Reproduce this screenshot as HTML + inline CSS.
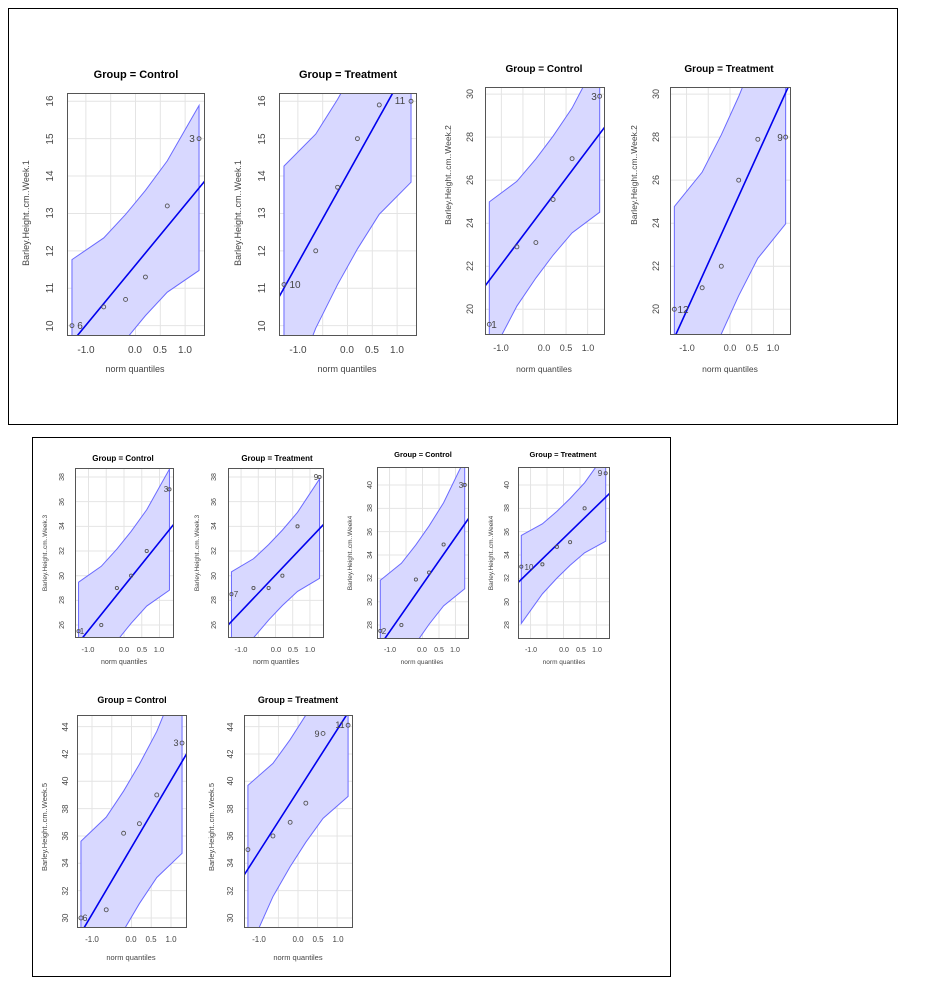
<!DOCTYPE html>
<html><head><meta charset="utf-8"><style>
html,body{margin:0;background:#fff;overflow:hidden;width:936px;height:1002px}
svg{display:block}
*{vector-effect:non-scaling-stroke}
.t{font-family:"Liberation Sans",sans-serif;font-weight:bold;fill:#000;text-anchor:middle}
.k{font-family:"Liberation Sans",sans-serif;fill:#444;text-anchor:middle}
.bx{fill:none;stroke:#555;stroke-width:1}
.g line{stroke:#e4e4e4;stroke-width:1;vector-effect:non-scaling-stroke}
.bd{fill:#d8d8ff;stroke:#6a6aff;stroke-width:1;vector-effect:non-scaling-stroke}
.ln{stroke:#0000ee;stroke-width:1.6;vector-effect:non-scaling-stroke}
.p ellipse{fill:none;stroke:#555;stroke-width:0.9;vector-effect:non-scaling-stroke}
</style></head><body>
<svg width="936" height="1002" viewBox="0 0 936 1002" xmlns="http://www.w3.org/2000/svg">
<rect x="8.5" y="8.5" width="889" height="416" fill="none" stroke="#000"/>
<rect x="32.5" y="437.5" width="638" height="539" fill="none" stroke="#000"/>

<!-- Panel 1 -->
<text class="t" x="136" y="78" font-size="11">Group = Control</text>
<svg x="67" y="93" width="137" height="242" viewBox="-1.38 -16.22 2.76 6.47" preserveAspectRatio="none">
<g class="g"><line x1="-1" x2="-1" y1="-30" y2="0"/><line x1="-0.5" x2="-0.5" y1="-30" y2="0"/><line x1="0" x2="0" y1="-30" y2="0"/><line x1="0.5" x2="0.5" y1="-30" y2="0"/><line x1="1" x2="1" y1="-30" y2="0"/>
<line x1="-2" x2="2" y1="-10" y2="-10"/><line x1="-2" x2="2" y1="-11" y2="-11"/><line x1="-2" x2="2" y1="-12" y2="-12"/><line x1="-2" x2="2" y1="-13" y2="-13"/><line x1="-2" x2="2" y1="-14" y2="-14"/><line x1="-2" x2="2" y1="-15" y2="-15"/><line x1="-2" x2="2" y1="-16" y2="-16"/></g>
<g transform="matrix(1,0,0,-1.61,0,-11.62)"><polygon class="bd" points="-1.28,0.09 -0.64,0.45 -0.2,0.84 0.2,1.24 0.64,1.73 1.28,2.65 1.28,-0.09 0.64,-0.45 0.2,-0.84 -0.2,-1.24 -0.64,-1.73 -1.28,-2.65"/><line class="ln" x1="-2" y1="-2" x2="2" y2="2"/></g>
<g class="p"><ellipse cx="-1.28" cy="-10" rx="0.04" ry="0.053"/><ellipse cx="-0.64" cy="-10.5" rx="0.04" ry="0.053"/><ellipse cx="-0.2" cy="-10.7" rx="0.04" ry="0.053"/><ellipse cx="0.2" cy="-11.3" rx="0.04" ry="0.053"/><ellipse cx="0.64" cy="-13.2" rx="0.04" ry="0.053"/><ellipse cx="1.28" cy="-15" rx="0.04" ry="0.053"/></g>
</svg>
<rect class="bx" x="67.5" y="93.5" width="137" height="242"/>
<g class="k" font-size="10"><text x="86" y="353">-1.0</text><text x="135" y="353">0.0</text><text x="160" y="353">0.5</text><text x="185" y="353">1.0</text><text x="135" y="372" font-size="9">norm quantiles</text>
<text x="80" y="329">6</text><text x="192" y="142">3</text></g>
<g class="k" font-size="10"><text transform="translate(53,101) rotate(-90)">16</text><text transform="translate(53,139) rotate(-90)">15</text><text transform="translate(53,176) rotate(-90)">14</text><text transform="translate(53,213) rotate(-90)">13</text><text transform="translate(53,251) rotate(-90)">12</text><text transform="translate(53,288) rotate(-90)">11</text><text transform="translate(53,326) rotate(-90)">10</text>
<text transform="translate(29,213) rotate(-90)" font-size="9">Barley.Height..cm..Week.1</text></g>

<!-- Panel 2 -->
<text class="t" x="348" y="78" font-size="11">Group = Treatment</text>
<svg x="279" y="93" width="137" height="242" viewBox="-1.38 -16.22 2.76 6.47" preserveAspectRatio="none">
<g class="g"><line x1="-1" x2="-1" y1="-30" y2="0"/><line x1="-0.5" x2="-0.5" y1="-30" y2="0"/><line x1="0" x2="0" y1="-30" y2="0"/><line x1="0.5" x2="0.5" y1="-30" y2="0"/><line x1="1" x2="1" y1="-30" y2="0"/>
<line x1="-2" x2="2" y1="-10" y2="-10"/><line x1="-2" x2="2" y1="-11" y2="-11"/><line x1="-2" x2="2" y1="-12" y2="-12"/><line x1="-2" x2="2" y1="-13" y2="-13"/><line x1="-2" x2="2" y1="-14" y2="-14"/><line x1="-2" x2="2" y1="-15" y2="-15"/><line x1="-2" x2="2" y1="-16" y2="-16"/></g>
<g transform="matrix(1,0,0,-2.38,0,-14.05)"><polygon class="bd" points="-1.28,0.09 -0.64,0.45 -0.2,0.84 0.2,1.24 0.64,1.73 1.28,2.65 1.28,-0.09 0.64,-0.45 0.2,-0.84 -0.2,-1.24 -0.64,-1.73 -1.28,-2.65"/><line class="ln" x1="-2" y1="-2" x2="2" y2="2"/></g>
<g class="p"><ellipse cx="-1.28" cy="-11.1" rx="0.04" ry="0.053"/><ellipse cx="-0.64" cy="-12" rx="0.04" ry="0.053"/><ellipse cx="-0.2" cy="-13.7" rx="0.04" ry="0.053"/><ellipse cx="0.2" cy="-15" rx="0.04" ry="0.053"/><ellipse cx="0.64" cy="-15.9" rx="0.04" ry="0.053"/><ellipse cx="1.28" cy="-16" rx="0.04" ry="0.053"/></g>
</svg>
<rect class="bx" x="279.5" y="93.5" width="137" height="242"/>
<g class="k" font-size="10"><text x="298" y="353">-1.0</text><text x="347" y="353">0.0</text><text x="372" y="353">0.5</text><text x="397" y="353">1.0</text><text x="347" y="372" font-size="9">norm quantiles</text>
<text x="295" y="288">10</text><text x="400" y="104">11</text></g>
<g class="k" font-size="10"><text transform="translate(265,101) rotate(-90)">16</text><text transform="translate(265,139) rotate(-90)">15</text><text transform="translate(265,176) rotate(-90)">14</text><text transform="translate(265,213) rotate(-90)">13</text><text transform="translate(265,251) rotate(-90)">12</text><text transform="translate(265,288) rotate(-90)">11</text><text transform="translate(265,326) rotate(-90)">10</text>
<text transform="translate(241,213) rotate(-90)" font-size="9">Barley.Height..cm..Week.1</text></g>

<!-- Panel 3 -->
<text class="t" x="544" y="72" font-size="10">Group = Control</text>
<svg x="485" y="87" width="119" height="247" viewBox="-1.38 -30.33 2.76 11.48" preserveAspectRatio="none">
<g class="g"><line x1="-1" x2="-1" y1="-40" y2="0"/><line x1="-0.5" x2="-0.5" y1="-40" y2="0"/><line x1="0" x2="0" y1="-40" y2="0"/><line x1="0.5" x2="0.5" y1="-40" y2="0"/><line x1="1" x2="1" y1="-40" y2="0"/>
<line x1="-2" x2="2" y1="-20" y2="-20"/><line x1="-2" x2="2" y1="-22" y2="-22"/><line x1="-2" x2="2" y1="-24" y2="-24"/><line x1="-2" x2="2" y1="-26" y2="-26"/><line x1="-2" x2="2" y1="-28" y2="-28"/><line x1="-2" x2="2" y1="-30" y2="-30"/></g>
<g transform="matrix(1,0,0,-2.66,0,-24.75)"><polygon class="bd" points="-1.28,0.09 -0.64,0.45 -0.2,0.84 0.2,1.24 0.64,1.73 1.28,2.65 1.28,-0.09 0.64,-0.45 0.2,-0.84 -0.2,-1.24 -0.64,-1.73 -1.28,-2.65"/><line class="ln" x1="-2" y1="-2" x2="2" y2="2"/></g>
<g class="p"><ellipse cx="-1.28" cy="-19.3" rx="0.046" ry="0.093"/><ellipse cx="-0.64" cy="-22.9" rx="0.046" ry="0.093"/><ellipse cx="-0.2" cy="-23.1" rx="0.046" ry="0.093"/><ellipse cx="0.2" cy="-25.1" rx="0.046" ry="0.093"/><ellipse cx="0.64" cy="-27" rx="0.046" ry="0.093"/><ellipse cx="1.28" cy="-29.9" rx="0.046" ry="0.093"/></g>
</svg>
<rect class="bx" x="485.5" y="87.5" width="119" height="247"/>
<g class="k" font-size="9"><text x="501" y="351">-1.0</text><text x="544" y="351">0.0</text><text x="566" y="351">0.5</text><text x="588" y="351">1.0</text><text x="544" y="372" font-size="8.5">norm quantiles</text>
<text x="494" y="328" font-size="10">1</text><text x="594" y="100" font-size="10">3</text></g>
<g class="k" font-size="9"><text transform="translate(473,94) rotate(-90)">30</text><text transform="translate(473,137) rotate(-90)">28</text><text transform="translate(473,180) rotate(-90)">26</text><text transform="translate(473,223) rotate(-90)">24</text><text transform="translate(473,266) rotate(-90)">22</text><text transform="translate(473,309) rotate(-90)">20</text>
<text transform="translate(451,175) rotate(-90)" font-size="8.5">Barley.Height..cm..Week.2</text></g>

<!-- Panel 4 -->
<text class="t" x="729" y="72" font-size="10">Group = Treatment</text>
<svg x="670" y="87" width="120" height="247" viewBox="-1.38 -30.33 2.76 11.48" preserveAspectRatio="none">
<g class="g"><line x1="-1" x2="-1" y1="-40" y2="0"/><line x1="-0.5" x2="-0.5" y1="-40" y2="0"/><line x1="0" x2="0" y1="-40" y2="0"/><line x1="0.5" x2="0.5" y1="-40" y2="0"/><line x1="1" x2="1" y1="-40" y2="0"/>
<line x1="-2" x2="2" y1="-20" y2="-20"/><line x1="-2" x2="2" y1="-22" y2="-22"/><line x1="-2" x2="2" y1="-24" y2="-24"/><line x1="-2" x2="2" y1="-26" y2="-26"/><line x1="-2" x2="2" y1="-28" y2="-28"/><line x1="-2" x2="2" y1="-30" y2="-30"/></g>
<g transform="matrix(1,0,0,-4.45,0,-24.37)"><polygon class="bd" points="-1.28,0.09 -0.64,0.45 -0.2,0.84 0.2,1.24 0.64,1.73 1.28,2.65 1.28,-0.09 0.64,-0.45 0.2,-0.84 -0.2,-1.24 -0.64,-1.73 -1.28,-2.65"/><line class="ln" x1="-2" y1="-2" x2="2" y2="2"/></g>
<g class="p"><ellipse cx="-1.28" cy="-20" rx="0.046" ry="0.093"/><ellipse cx="-0.64" cy="-21" rx="0.046" ry="0.093"/><ellipse cx="-0.2" cy="-22" rx="0.046" ry="0.093"/><ellipse cx="0.2" cy="-26" rx="0.046" ry="0.093"/><ellipse cx="0.64" cy="-27.9" rx="0.046" ry="0.093"/><ellipse cx="1.28" cy="-28" rx="0.046" ry="0.093"/></g>
</svg>
<rect class="bx" x="670.5" y="87.5" width="120" height="247"/>
<g class="k" font-size="9"><text x="687" y="351">-1.0</text><text x="730" y="351">0.0</text><text x="752" y="351">0.5</text><text x="773" y="351">1.0</text><text x="730" y="372" font-size="8.5">norm quantiles</text>
<text x="683" y="313" font-size="10">12</text><text x="780" y="141" font-size="10">9</text></g>
<g class="k" font-size="9"><text transform="translate(659,94) rotate(-90)">30</text><text transform="translate(659,137) rotate(-90)">28</text><text transform="translate(659,180) rotate(-90)">26</text><text transform="translate(659,223) rotate(-90)">24</text><text transform="translate(659,266) rotate(-90)">22</text><text transform="translate(659,309) rotate(-90)">20</text>
<text transform="translate(637,175) rotate(-90)" font-size="8.5">Barley.Height..cm..Week.2</text></g>

<!-- Panel a -->
<text class="t" x="123" y="461" font-size="8">Group = Control</text>
<svg x="75" y="468" width="98" height="169" viewBox="-1.38 -38.73 2.76 13.7" preserveAspectRatio="none">
<g class="g"><line x1="-1" x2="-1" y1="-60" y2="0"/><line x1="-0.5" x2="-0.5" y1="-60" y2="0"/><line x1="0" x2="0" y1="-60" y2="0"/><line x1="0.5" x2="0.5" y1="-60" y2="0"/><line x1="1" x2="1" y1="-60" y2="0"/>
<line x1="-2" x2="2" y1="-26" y2="-26"/><line x1="-2" x2="2" y1="-28" y2="-28"/><line x1="-2" x2="2" y1="-30" y2="-30"/><line x1="-2" x2="2" y1="-32" y2="-32"/><line x1="-2" x2="2" y1="-34" y2="-34"/><line x1="-2" x2="2" y1="-36" y2="-36"/><line x1="-2" x2="2" y1="-38" y2="-38"/></g>
<g transform="matrix(1,0,0,-3.58,0,-29.15)"><polygon class="bd" points="-1.28,0.09 -0.64,0.45 -0.2,0.84 0.2,1.24 0.64,1.73 1.28,2.65 1.28,-0.09 0.64,-0.45 0.2,-0.84 -0.2,-1.24 -0.64,-1.73 -1.28,-2.65"/><line class="ln" x1="-2" y1="-2" x2="2" y2="2"/></g>
<g class="p"><ellipse cx="-1.28" cy="-25.5" rx="0.045" ry="0.13"/><ellipse cx="-0.64" cy="-26" rx="0.045" ry="0.13"/><ellipse cx="-0.2" cy="-29" rx="0.045" ry="0.13"/><ellipse cx="0.2" cy="-30" rx="0.045" ry="0.13"/><ellipse cx="0.64" cy="-32" rx="0.045" ry="0.13"/><ellipse cx="1.28" cy="-37" rx="0.045" ry="0.13"/></g>
</svg>
<rect class="bx" x="75.5" y="468.5" width="98" height="169"/>
<g class="k" font-size="7.5"><text x="88" y="652">-1.0</text><text x="124" y="652">0.0</text><text x="142" y="652">0.5</text><text x="159" y="652">1.0</text><text x="124" y="664" font-size="7">norm quantiles</text>
<text x="82" y="634" font-size="8">1</text><text x="166" y="492" font-size="8">3</text></g>
<g class="k" font-size="7"><text transform="translate(64,477) rotate(-90)">38</text><text transform="translate(64,502) rotate(-90)">36</text><text transform="translate(64,526) rotate(-90)">34</text><text transform="translate(64,551) rotate(-90)">32</text><text transform="translate(64,576) rotate(-90)">30</text><text transform="translate(64,600) rotate(-90)">28</text><text transform="translate(64,625) rotate(-90)">26</text>
<text transform="translate(47,553) rotate(-90)" font-size="6.5">Barley.Height..cm..Week.3</text></g>

<!-- Panel b -->
<text class="t" x="277" y="461" font-size="8">Group = Treatment</text>
<svg x="228" y="468" width="95" height="169" viewBox="-1.38 -38.73 2.76 13.7" preserveAspectRatio="none">
<g class="g"><line x1="-1" x2="-1" y1="-60" y2="0"/><line x1="-0.5" x2="-0.5" y1="-60" y2="0"/><line x1="0" x2="0" y1="-60" y2="0"/><line x1="0.5" x2="0.5" y1="-60" y2="0"/><line x1="1" x2="1" y1="-60" y2="0"/>
<line x1="-2" x2="2" y1="-26" y2="-26"/><line x1="-2" x2="2" y1="-28" y2="-28"/><line x1="-2" x2="2" y1="-30" y2="-30"/><line x1="-2" x2="2" y1="-32" y2="-32"/><line x1="-2" x2="2" y1="-34" y2="-34"/><line x1="-2" x2="2" y1="-36" y2="-36"/><line x1="-2" x2="2" y1="-38" y2="-38"/></g>
<g transform="matrix(1,0,0,-2.94,0,-30.05)"><polygon class="bd" points="-1.28,0.09 -0.64,0.45 -0.2,0.84 0.2,1.24 0.64,1.73 1.28,2.65 1.28,-0.09 0.64,-0.45 0.2,-0.84 -0.2,-1.24 -0.64,-1.73 -1.28,-2.65"/><line class="ln" x1="-2" y1="-2" x2="2" y2="2"/></g>
<g class="p"><ellipse cx="-1.28" cy="-28.5" rx="0.046" ry="0.13"/><ellipse cx="-0.64" cy="-29" rx="0.046" ry="0.13"/><ellipse cx="-0.2" cy="-29" rx="0.046" ry="0.13"/><ellipse cx="0.2" cy="-30" rx="0.046" ry="0.13"/><ellipse cx="0.64" cy="-34" rx="0.046" ry="0.13"/><ellipse cx="1.28" cy="-38" rx="0.046" ry="0.13"/></g>
</svg>
<rect class="bx" x="228.5" y="468.5" width="95" height="169"/>
<g class="k" font-size="7.5"><text x="241" y="652">-1.0</text><text x="276" y="652">0.0</text><text x="293" y="652">0.5</text><text x="310" y="652">1.0</text><text x="276" y="664" font-size="7">norm quantiles</text>
<text x="236" y="597" font-size="8">7</text><text x="316" y="480" font-size="8">9</text></g>
<g class="k" font-size="7"><text transform="translate(216,477) rotate(-90)">38</text><text transform="translate(216,502) rotate(-90)">36</text><text transform="translate(216,526) rotate(-90)">34</text><text transform="translate(216,551) rotate(-90)">32</text><text transform="translate(216,576) rotate(-90)">30</text><text transform="translate(216,600) rotate(-90)">28</text><text transform="translate(216,625) rotate(-90)">26</text>
<text transform="translate(199,553) rotate(-90)" font-size="6.5">Barley.Height..cm..Week.3</text></g>

<!-- Panel c -->
<text class="t" x="423" y="457" font-size="7.5">Group = Control</text>
<svg x="377" y="467" width="91" height="171" viewBox="-1.38 -41.54 2.76 14.65" preserveAspectRatio="none">
<g class="g"><line x1="-1" x2="-1" y1="-60" y2="0"/><line x1="-0.5" x2="-0.5" y1="-60" y2="0"/><line x1="0" x2="0" y1="-60" y2="0"/><line x1="0.5" x2="0.5" y1="-60" y2="0"/><line x1="1" x2="1" y1="-60" y2="0"/>
<line x1="-2" x2="2" y1="-28" y2="-28"/><line x1="-2" x2="2" y1="-30" y2="-30"/><line x1="-2" x2="2" y1="-32" y2="-32"/><line x1="-2" x2="2" y1="-34" y2="-34"/><line x1="-2" x2="2" y1="-36" y2="-36"/><line x1="-2" x2="2" y1="-38" y2="-38"/><line x1="-2" x2="2" y1="-40" y2="-40"/></g>
<g transform="matrix(1,0,0,-4.05,0,-31.47)"><polygon class="bd" points="-1.28,0.09 -0.64,0.45 -0.2,0.84 0.2,1.24 0.64,1.73 1.28,2.65 1.28,-0.09 0.64,-0.45 0.2,-0.84 -0.2,-1.24 -0.64,-1.73 -1.28,-2.65"/><line class="ln" x1="-2" y1="-2" x2="2" y2="2"/></g>
<g class="p"><ellipse cx="-1.28" cy="-27.5" rx="0.048" ry="0.137"/><ellipse cx="-0.64" cy="-28" rx="0.048" ry="0.137"/><ellipse cx="-0.2" cy="-31.9" rx="0.048" ry="0.137"/><ellipse cx="0.2" cy="-32.5" rx="0.048" ry="0.137"/><ellipse cx="0.64" cy="-34.9" rx="0.048" ry="0.137"/><ellipse cx="1.28" cy="-40" rx="0.048" ry="0.137"/></g>
</svg>
<rect class="bx" x="377.5" y="467.5" width="91" height="171"/>
<g class="k" font-size="7"><text x="390" y="652">-1.0</text><text x="422" y="652">0.0</text><text x="439" y="652">0.5</text><text x="455" y="652">1.0</text><text x="422" y="664" font-size="6.5">norm quantiles</text>
<text x="384" y="634" font-size="8">2</text><text x="461" y="488" font-size="8">3</text></g>
<g class="k" font-size="7"><text transform="translate(372,485) rotate(-90)">40</text><text transform="translate(372,508) rotate(-90)">38</text><text transform="translate(372,532) rotate(-90)">36</text><text transform="translate(372,555) rotate(-90)">34</text><text transform="translate(372,578) rotate(-90)">32</text><text transform="translate(372,602) rotate(-90)">30</text><text transform="translate(372,625) rotate(-90)">28</text>
<text transform="translate(352,553) rotate(-90)" font-size="6.5">Barley.Height..cm..Week4</text></g>

<!-- Panel d -->
<text class="t" x="563" y="457" font-size="7.5">Group = Treatment</text>
<svg x="518" y="467" width="91" height="171" viewBox="-1.38 -41.54 2.76 14.65" preserveAspectRatio="none">
<g class="g"><line x1="-1" x2="-1" y1="-60" y2="0"/><line x1="-0.5" x2="-0.5" y1="-60" y2="0"/><line x1="0" x2="0" y1="-60" y2="0"/><line x1="0.5" x2="0.5" y1="-60" y2="0"/><line x1="1" x2="1" y1="-60" y2="0"/>
<line x1="-2" x2="2" y1="-28" y2="-28"/><line x1="-2" x2="2" y1="-30" y2="-30"/><line x1="-2" x2="2" y1="-32" y2="-32"/><line x1="-2" x2="2" y1="-34" y2="-34"/><line x1="-2" x2="2" y1="-36" y2="-36"/><line x1="-2" x2="2" y1="-38" y2="-38"/><line x1="-2" x2="2" y1="-40" y2="-40"/></g>
<g transform="matrix(1,0,0,-2.75,0,-35.43)"><polygon class="bd" points="-1.28,0.09 -0.64,0.45 -0.2,0.84 0.2,1.24 0.64,1.73 1.28,2.65 1.28,-0.09 0.64,-0.45 0.2,-0.84 -0.2,-1.24 -0.64,-1.73 -1.28,-2.65"/><line class="ln" x1="-2" y1="-2" x2="2" y2="2"/></g>
<g class="p"><ellipse cx="-1.28" cy="-33" rx="0.048" ry="0.137"/><ellipse cx="-0.64" cy="-33.2" rx="0.048" ry="0.137"/><ellipse cx="-0.2" cy="-34.7" rx="0.048" ry="0.137"/><ellipse cx="0.2" cy="-35.1" rx="0.048" ry="0.137"/><ellipse cx="0.64" cy="-38" rx="0.048" ry="0.137"/><ellipse cx="1.28" cy="-41" rx="0.048" ry="0.137"/></g>
</svg>
<rect class="bx" x="518.5" y="467.5" width="91" height="171"/>
<g class="k" font-size="7"><text x="531" y="652">-1.0</text><text x="564" y="652">0.0</text><text x="581" y="652">0.5</text><text x="597" y="652">1.0</text><text x="564" y="664" font-size="6.5">norm quantiles</text>
<text x="529" y="570" font-size="8">10</text><text x="600" y="476" font-size="8">9</text></g>
<g class="k" font-size="7"><text transform="translate(509,485) rotate(-90)">40</text><text transform="translate(509,508) rotate(-90)">38</text><text transform="translate(509,532) rotate(-90)">36</text><text transform="translate(509,555) rotate(-90)">34</text><text transform="translate(509,578) rotate(-90)">32</text><text transform="translate(509,602) rotate(-90)">30</text><text transform="translate(509,625) rotate(-90)">28</text>
<text transform="translate(493,553) rotate(-90)" font-size="6.5">Barley.Height..cm..Week4</text></g>

<!-- Panel e -->
<text class="t" x="132" y="703" font-size="9">Group = Control</text>
<svg x="77" y="715" width="109" height="212" viewBox="-1.38 -44.85 2.76 15.51" preserveAspectRatio="none">
<g class="g"><line x1="-1" x2="-1" y1="-60" y2="0"/><line x1="-0.5" x2="-0.5" y1="-60" y2="0"/><line x1="0" x2="0" y1="-60" y2="0"/><line x1="0.5" x2="0.5" y1="-60" y2="0"/><line x1="1" x2="1" y1="-60" y2="0"/>
<line x1="-2" x2="2" y1="-30" y2="-30"/><line x1="-2" x2="2" y1="-32" y2="-32"/><line x1="-2" x2="2" y1="-34" y2="-34"/><line x1="-2" x2="2" y1="-36" y2="-36"/><line x1="-2" x2="2" y1="-38" y2="-38"/><line x1="-2" x2="2" y1="-40" y2="-40"/><line x1="-2" x2="2" y1="-42" y2="-42"/><line x1="-2" x2="2" y1="-44" y2="-44"/></g>
<g transform="matrix(1,0,0,-4.9,0,-35.17)"><polygon class="bd" points="-1.28,0.09 -0.64,0.45 -0.2,0.84 0.2,1.24 0.64,1.73 1.28,2.65 1.28,-0.09 0.64,-0.45 0.2,-0.84 -0.2,-1.24 -0.64,-1.73 -1.28,-2.65"/><line class="ln" x1="-2" y1="-2" x2="2" y2="2"/></g>
<g class="p"><ellipse cx="-1.28" cy="-30" rx="0.05" ry="0.146"/><ellipse cx="-0.64" cy="-30.6" rx="0.05" ry="0.146"/><ellipse cx="-0.2" cy="-36.2" rx="0.05" ry="0.146"/><ellipse cx="0.2" cy="-36.9" rx="0.05" ry="0.146"/><ellipse cx="0.64" cy="-39" rx="0.05" ry="0.146"/><ellipse cx="1.28" cy="-42.8" rx="0.05" ry="0.146"/></g>
</svg>
<rect class="bx" x="77.5" y="715.5" width="109" height="212"/>
<g class="k" font-size="8"><text x="92" y="942">-1.0</text><text x="131" y="942">0.0</text><text x="151" y="942">0.5</text><text x="171" y="942">1.0</text><text x="131" y="960" font-size="7.5">norm quantiles</text>
<text x="85" y="921" font-size="9">6</text><text x="176" y="746" font-size="9">3</text></g>
<g class="k" font-size="8"><text transform="translate(68,727) rotate(-90)">44</text><text transform="translate(68,754) rotate(-90)">42</text><text transform="translate(68,781) rotate(-90)">40</text><text transform="translate(68,809) rotate(-90)">38</text><text transform="translate(68,836) rotate(-90)">36</text><text transform="translate(68,863) rotate(-90)">34</text><text transform="translate(68,891) rotate(-90)">32</text><text transform="translate(68,918) rotate(-90)">30</text>
<text transform="translate(47,827) rotate(-90)" font-size="7.5">Barley.Height..cm..Week.5</text></g>

<!-- Panel f -->
<text class="t" x="298" y="703" font-size="9">Group = Treatment</text>
<svg x="244" y="715" width="108" height="212" viewBox="-1.38 -44.85 2.76 15.51" preserveAspectRatio="none">
<g class="g"><line x1="-1" x2="-1" y1="-60" y2="0"/><line x1="-0.5" x2="-0.5" y1="-60" y2="0"/><line x1="0" x2="0" y1="-60" y2="0"/><line x1="0.5" x2="0.5" y1="-60" y2="0"/><line x1="1" x2="1" y1="-60" y2="0"/>
<line x1="-2" x2="2" y1="-30" y2="-30"/><line x1="-2" x2="2" y1="-32" y2="-32"/><line x1="-2" x2="2" y1="-34" y2="-34"/><line x1="-2" x2="2" y1="-36" y2="-36"/><line x1="-2" x2="2" y1="-38" y2="-38"/><line x1="-2" x2="2" y1="-40" y2="-40"/><line x1="-2" x2="2" y1="-42" y2="-42"/><line x1="-2" x2="2" y1="-44" y2="-44"/></g>
<g transform="matrix(1,0,0,-4.47,0,-39.3)"><polygon class="bd" points="-1.28,0.09 -0.64,0.45 -0.2,0.84 0.2,1.24 0.64,1.73 1.28,2.65 1.28,-0.09 0.64,-0.45 0.2,-0.84 -0.2,-1.24 -0.64,-1.73 -1.28,-2.65"/><line class="ln" x1="-2" y1="-2" x2="2" y2="2"/></g>
<g class="p"><ellipse cx="-1.28" cy="-35" rx="0.05" ry="0.146"/><ellipse cx="-0.64" cy="-36" rx="0.05" ry="0.146"/><ellipse cx="-0.2" cy="-37" rx="0.05" ry="0.146"/><ellipse cx="0.2" cy="-38.4" rx="0.05" ry="0.146"/><ellipse cx="0.64" cy="-43.5" rx="0.05" ry="0.146"/><ellipse cx="1.28" cy="-44.1" rx="0.05" ry="0.146"/></g>
</svg>
<rect class="bx" x="244.5" y="715.5" width="108" height="212"/>
<g class="k" font-size="8"><text x="259" y="942">-1.0</text><text x="298" y="942">0.0</text><text x="318" y="942">0.5</text><text x="338" y="942">1.0</text><text x="298" y="960" font-size="7.5">norm quantiles</text>
<text x="317" y="737" font-size="9">9</text><text x="340" y="728" font-size="9">11</text></g>
<g class="k" font-size="8"><text transform="translate(233,727) rotate(-90)">44</text><text transform="translate(233,754) rotate(-90)">42</text><text transform="translate(233,781) rotate(-90)">40</text><text transform="translate(233,809) rotate(-90)">38</text><text transform="translate(233,836) rotate(-90)">36</text><text transform="translate(233,863) rotate(-90)">34</text><text transform="translate(233,891) rotate(-90)">32</text><text transform="translate(233,918) rotate(-90)">30</text>
<text transform="translate(214,827) rotate(-90)" font-size="7.5">Barley.Height..cm..Week.5</text></g>
</svg>
</body></html>
